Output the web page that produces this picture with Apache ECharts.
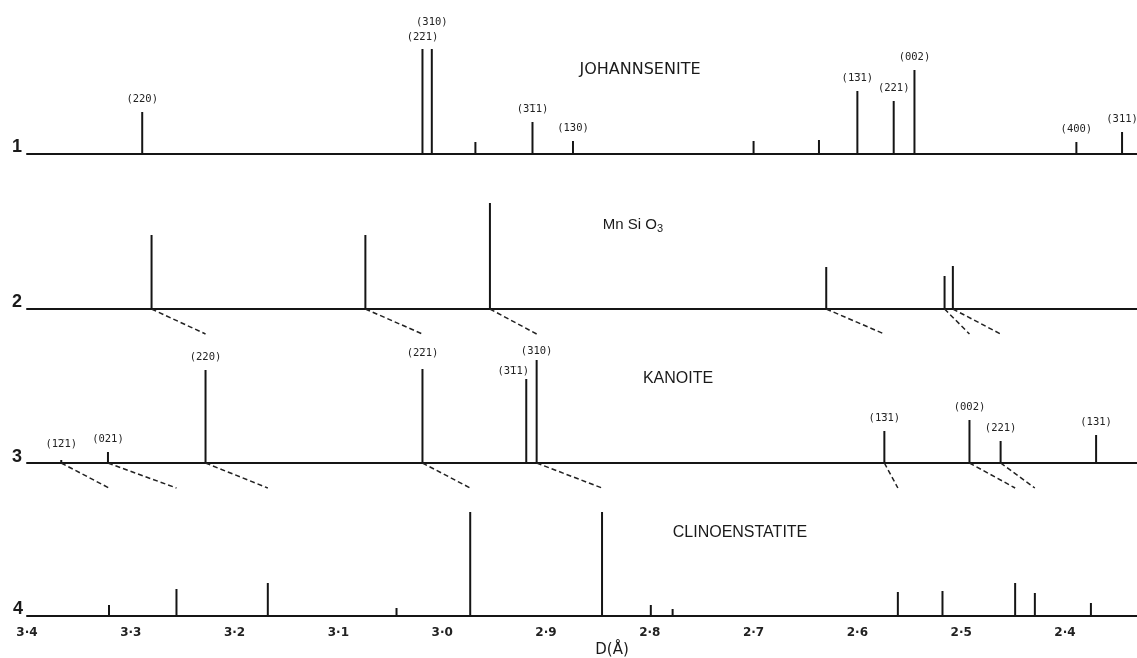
<!DOCTYPE html>
<html><head><meta charset="utf-8">
<script src="https://cdn.jsdelivr.net/npm/echarts@6/dist/echarts.min.js"></script>
<style>html,body{margin:0;padding:0;background:#fff}#c{width:1137px;height:658px}</style>
</head><body><div id="c"></div>
<script>
// ---- data (D spacing in Å, relative intensity, hkl labels) ----
const xTicks = [3.4, 3.3, 3.2, 3.1, 3.0, 2.9, 2.8, 2.7, 2.6, 2.5, 2.4];

const johD   = [3.289, 3.019, 3.010, 2.968, 2.913, 2.874, 2.700, 2.637, 2.600, 2.565, 2.545, 2.389, 2.345];
const johI   = [42, 105, 105, 12, 32, 13, 13, 14, 63, 53, 84, 12, 22];
const johHkl = ['(220)', '(2\u030521)', '(310)', '', '(3\u030511)', '(130)', '', '', '(1\u030531)', '(221)', '(002)', '(400)', '(311)'];

const mnD    = [3.280, 3.074, 2.954, 2.630, 2.516, 2.508];
const mnI    = [74, 74, 106, 42, 33, 43];
const mnHkl  = ['', '', '', '', '', ''];

const kanD   = [3.367, 3.322, 3.228, 3.019, 2.919, 2.909, 2.574, 2.492, 2.462, 2.370];
const kanI   = [3, 11, 93, 94, 84, 103, 32, 43, 22, 28];
const kanHkl = ['(1\u030521)', '(021)', '(220)', '(2\u030521)', '(3\u030511)', '(310)', '(1\u030531)', '(002)', '(221)', '(131)'];

const cliD   = [3.321, 3.256, 3.168, 3.044, 2.973, 2.846, 2.799, 2.778, 2.561, 2.518, 2.448, 2.429, 2.375];
const cliI   = [11, 27, 33, 8, 104, 104, 11, 7, 24, 25, 33, 23, 13];
const cliHkl = ['', '', '', '', '', '', '', '', '', '', '', '', ''];

// correspondence lines (upper pattern D -> lower pattern D)
const link23From = [3.280, 3.074, 2.954, 2.630, 2.516, 2.508];
const link23To   = [3.228, 3.019, 2.909, 2.574, 2.492, 2.462];
const link34From = [3.367, 3.322, 3.228, 3.019, 2.909, 2.574, 2.492, 2.462];
const link34To   = [3.321, 3.256, 3.168, 2.973, 2.846, 2.561, 2.448, 2.429];

// ---- layout / styling ----
const X_MAX = 3.4, X_MIN = 2.3306;
const TOPV = 130, DROP = -25;
const panels = [
  {d: johD, v: johI, h: johHkl, base: 154, min: -30},
  {d: mnD,  v: mnI,  h: mnHkl,  base: 309, min: -30, links: [link23From, link23To]},
  {d: kanD, v: kanI, h: kanHkl, base: 463, min: -30, links: [link34From, link34To]},
  {d: cliD, v: cliI, h: cliHkl, base: 616, min: 0}
];
const labelTweak = {
  '0:1': {distance: 6},
  '0:2': {distance: 21},
  '2:3': {distance: 10},
  '2:4': {distance: 2, offset: [-13, 0]},
  '2:5': {distance: 3},
  '2:0': {distance: 10}
};
const INK = '#151515';

const grids = [], xAxes = [], yAxes = [], series = [];
panels.forEach((p, i) => {
  grids.push({left: 27, right: 0, top: p.base - TOPV, height: TOPV - p.min});
  xAxes.push({
    gridIndex: i, type: 'value', inverse: true, min: X_MIN, max: X_MAX,
    splitLine: {show: false}, axisTick: {show: false},
    axisLine: {show: true, onZero: true, lineStyle: {color: INK, width: 2}},
    axisLabel: i === 3 ? {
      show: true, customValues: xTicks, margin: 11,
      formatter: v => v.toFixed(1).replace('.', '\u00b7'),
      fontFamily: 'DejaVu Sans', fontWeight: 'bold', fontSize: 12, color: '#222',
      showMinLabel: true, showMaxLabel: true
    } : {show: false}
  });
  yAxes.push({gridIndex: i, type: 'value', min: p.min, max: TOPV, show: false});
  series.push({
    type: 'bar', xAxisIndex: i, yAxisIndex: i, barWidth: 2, animation: false,
    itemStyle: {color: INK},
    data: p.d.map((d, j) => {
      const lab = p.h[j];
      const tw = labelTweak[i + ':' + j] || {};
      return {
        value: [d, p.v[j]],
        label: lab ? Object.assign({
          show: true, position: 'top', distance: 7, formatter: lab,
          fontFamily: 'DejaVu Sans Mono', fontSize: 10.5, color: '#222'
        }, tw) : {show: false}
      };
    })
  });
  if (p.links) {
    series.push({
      type: 'lines', coordinateSystem: 'cartesian2d', xAxisIndex: i, yAxisIndex: i,
      silent: true, animation: false,
      lineStyle: {color: '#222', width: 1.5, type: [5, 3], opacity: 1},
      data: p.links[0].map((f, k) => ({coords: [[f, 0], [p.links[1][k], DROP]]}))
    });
  }
});

const txt = (x, y, text, style) => ({
  type: 'text', x: x, y: y, silent: true,
  style: Object.assign({text: text, textAlign: 'center', textVerticalAlign: 'middle', fill: '#1a1a1a'}, style)
});
const numStyle = {font: 'bold 18px "Liberation Sans"'};
const graphic = [
  txt(17, 147, '1', numStyle), txt(17, 302, '2', numStyle),
  txt(17, 457, '3', numStyle), txt(18, 609, '4', numStyle),
  txt(640, 70, 'JOHANNSENITE', {font: '16px "DejaVu Sans"'}),
  txt(633, 225, 'Mn Si O{s|3}', {font: '15px "Liberation Sans"', rich: {s: {fontSize: 11, fontFamily: 'Liberation Sans', padding: [8, 0, 0, 0]}}}),
  txt(678, 379, 'KANOITE', {font: '16px "Liberation Sans"'}),
  txt(740, 533, 'CLINOENSTATITE', {font: '16px "Liberation Sans"'}),
  txt(612, 650, 'D(\u00c5)', {font: '15px "DejaVu Sans"'})
];

const chart = echarts.init(document.getElementById('c'), null, {renderer: 'canvas'});
chart.setOption({
  animation: false, backgroundColor: '#fff',
  grid: grids, xAxis: xAxes, yAxis: yAxes, series: series, graphic: graphic
});
</script></body></html>
